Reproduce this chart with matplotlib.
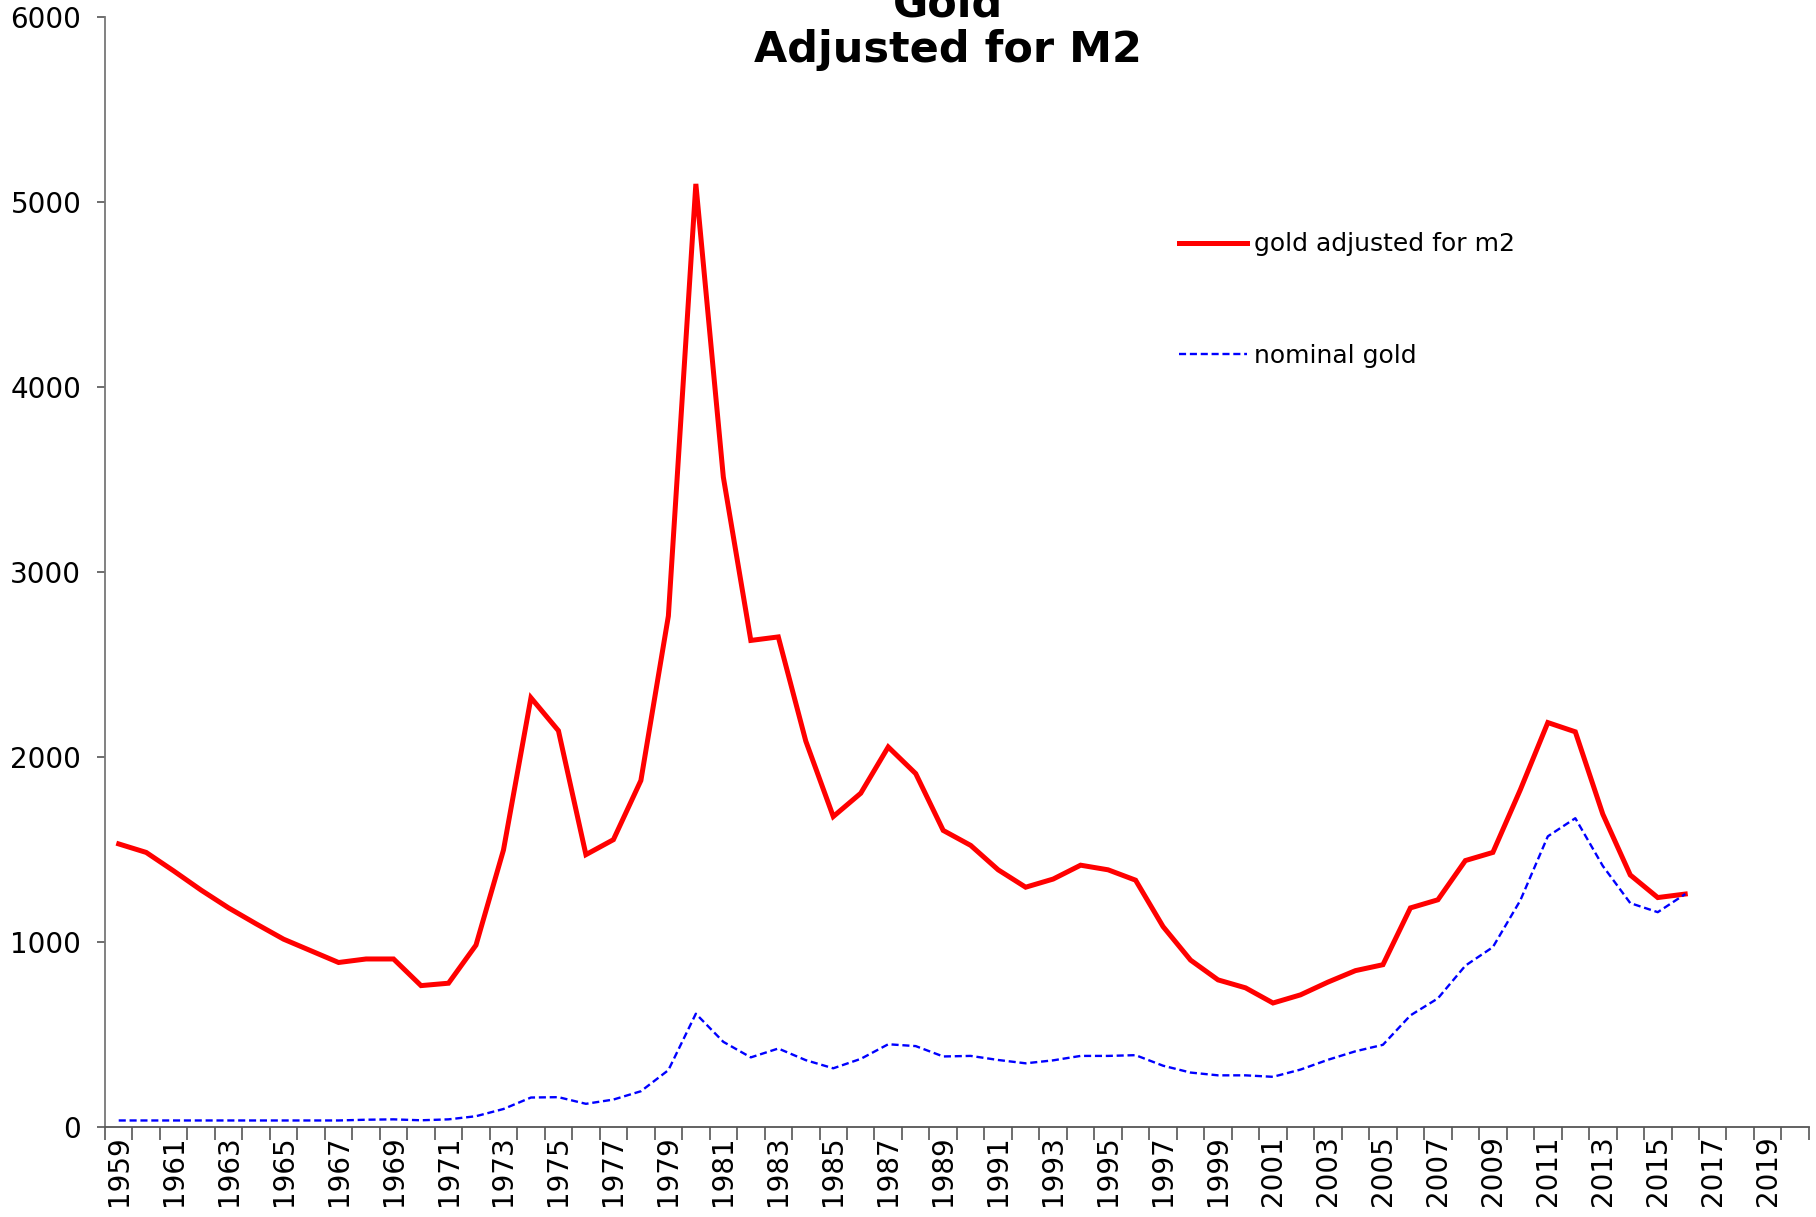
import matplotlib
matplotlib.use("Agg")
import matplotlib.pyplot as plt
import numpy as np

years = list(range(1959, 2021))
gold_m2 = [1530, 1484, 1384, 1280, 1184, 1098, 1015, 952, 889, 908, 908, 764, 777, 983,
           1497, 2320, 2142, 1472, 1553, 1873, 2762, 5098, 3513, 2630, 2649, 2086, 1678,
           1804, 2054, 1910, 1603, 1522, 1390, 1296, 1340, 1415, 1390, 1334, 1083, 902,
           795, 752, 670, 714, 783, 845, 877, 1184, 1228, 1440, 1484, 1823, 2186, 2136,
           1691, 1362, 1240, 1259]
nominal = [35, 35, 35, 35, 35, 35, 35, 35, 35, 39, 41, 36, 41, 58, 97, 159, 161, 125,
           148, 193, 307, 612, 460, 376, 424, 361, 317, 368, 447, 437, 381, 384, 362, 344,
           360, 384, 384, 388, 331, 294, 279, 279, 271, 310, 363, 409, 444, 603, 695, 872,
           972, 1225, 1571, 1669, 1411, 1210, 1161, 1259]
labels = [str(y) if (y - 1959) % 2 == 0 else "" for y in years]

fig = plt.figure(figsize=(18.16, 12.17), dpi=100)
ax = fig.add_axes([0.0578, 0.074, 0.9383, 0.912])

x1 = np.arange(len(gold_m2))
x2 = np.arange(len(nominal))
ax.plot(x1, gold_m2, color="#ff0000", lw=3.6, solid_joinstyle="miter", label="gold adjusted for m2")
ax.plot(x2, nominal, color="#0000ff", lw=1.7, dashes=(3, 1.6), label="nominal gold")

ax.set_xlim(-0.5, len(years) - 0.5)
ax.set_ylim(0, 6000)
ax.set_yticks(range(0, 6001, 1000))
ax.set_xticks(np.arange(len(years)))
ax.set_xticklabels(labels, rotation=90, fontsize=20)
ax.set_xticks(np.arange(len(years) + 1) - 0.5, minor=True)
ax.tick_params(axis="x", which="major", length=0, pad=6)
ax.tick_params(axis="x", which="minor", length=9, width=1.2, color="#555555")
ax.tick_params(axis="y", length=6, width=1.2, color="#555555", labelsize=20, pad=11)

for s in ["top", "right"]:
    ax.spines[s].set_visible(False)
ax.spines["left"].set_color("#777777")
ax.spines["left"].set_linewidth(1.3)
ax.spines["bottom"].set_color("#555555")
ax.spines["bottom"].set_linewidth(1.3)

fig.text(0.522, 0.949, "Gold\nAdjusted for M2", ha="center", va="baseline",
         fontsize=31, fontweight="bold", linespacing=1.1)
ax.legend(loc="upper left", bbox_to_anchor=(0.6305, 0.806), frameon=False, fontsize=18,
          handlelength=2.7, handletextpad=0.3, labelspacing=3.5,
          borderpad=0, borderaxespad=0)

fig.savefig("out.png", dpi=100)
